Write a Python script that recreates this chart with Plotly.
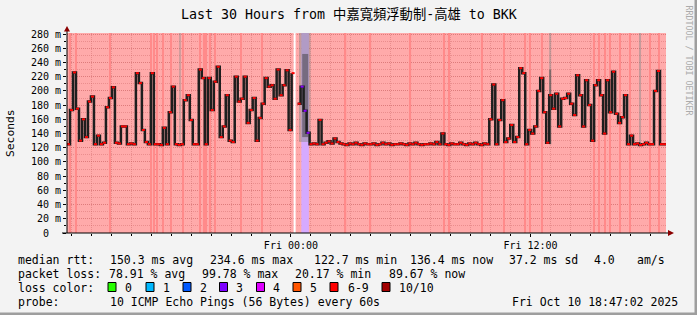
import pandas as pd
import plotly.graph_objects as go

# ---------------- data ----------------
START = pd.Timestamp("2025-10-09 12:47:02")
END = pd.Timestamp("2025-10-10 18:47:02")
STEP_MIN = 9  # minutes per sample

median_ms = [
    125, 173, 226, 175, 130, 160, 135, 185, 192, 125,
    137, 125, 127, 177, 190, 205, 127, 126, 150, 150,
    125, 126, 125, 225, 211, 145, 128, 125, 225, 125,
    125, 124, 148, 125, 170, 206, 125, 124, 125, 187,
    194, 159, 125, 125, 230, 218, 125, 218, 173, 213,
    234, 135, 150, 194, 130, 128, 220, 185, 189, 220,
    155, 173, 190, 130, 162, 182, 218, 206, 208, 189,
    230, 194, 208, 229, 145, 225, None, 182, 206, 172,
    141, 125, 126, 125, 159, 125, 127, 129, 126, 133,
    128, 126, 125, 124, 126, 125, 127, 125, 124, 126,
    125, 125, 126, 124, 125, 127, 125, 126, 124, 125,
    125, 126, 125, 124, 126, 125, 127, 125, 124, 125,
    125, 126, 125, 128, 125, 140, 125, 124, 126, 125,
    125, 127, 125, 124, 126, 125, 127, 125, 124, 126,
    125, 160, 209, 125, 159, 187, 128, 133, 152, 128,
    135, 232, 225, 125, 145, 140, 150, 200, 218, 170,
    127, 194, 175, 196, 150, 189, 190, 196, 182, 166,
    222, 194, 150, 215, 180, 130, 208, 215, 194, 140,
    215, 170, 227, 168, 155, 163, 194, 125, 137, 125,
    126, 124, 125, 127, 125, 125, 200, 228, 125, 125,
]
purple_steps = [78, 79, 80]  # samples with 3 lost pings

# hours after START with heavier loss background
loss_stripe_h = [0.15, 0.45, 2.15, 4.2, 4.35, 4.5, 4.8, 5.2, 5.8, 6.65, 6.85,
                 6.95, 7.15, 7.4, 8.7, 9.75, 13.95, 15.2, 17.2, 18.9, 19.15,
                 20.8, 21.9, 22.95, 23.2, 23.8, 26.4, 26.65, 26.95, 27.2,
                 27.7, 28.2, 29.2, 29.65]
nodata_h = [11.35, 11.45]
loss3_h = [11.735, 12.115]

# smoke bands (hours start/end, low/high ms)
smoke_start_h = [5.62, 11.62, 24.15, 28.65]
smoke_end_h = [5.70, 12.20, 24.25, 28.75]
smoke_low = [128, 128, 125, 122]
smoke_high = [282, 282, 282, 282]
dark_start_h = [11.78, 24.15]
dark_end_h = [12.08, 24.25]
dark_low = [135, 125]
dark_high = [252, 230]

y_ticks = [0, 20, 40, 60, 80, 100, 120, 140, 160, 180, 200, 220, 240, 260, 280]
x_tick_times = ["2025-10-10 00:00", "2025-10-10 12:00"]
x_tick_labels = ["Fri 00:00", "Fri 12:00"]

loss_names = ["0", "1", "2", "3", "4", "5", "6-9", "10/10"]
loss_cols = ["#26ff00", "#00b8ff", "#0059ff", "#7e00ff", "#dd00ff", "#ff5500", "#ff0000", "#a10000"]

# ---------------- layout constants ----------------
W, H = 697, 315
L, R, T, B = 67, 31, 33, 82
PW, PH = W - L - R, H - T - B
YMAX = 281.5
MONO = "DejaVu Sans Mono"
FS = 11.5


def ppx(x):
    return (x - L) / PW


def ppy(y):
    return (H - B - y) / PH


def hrs(h):
    return START + pd.Timedelta(hours=h)


n = len(median_ms)
times = [START + pd.Timedelta(minutes=STEP_MIN * i) for i in range(n + 1)]

fig = go.Figure()

HMS = 3600 * 1000
# loss background stripes
fig.add_trace(go.Bar(x=[hrs(h) for h in loss_stripe_h], y=[YMAX] * len(loss_stripe_h), base=0,
                     width=[0.065 * HMS] * len(loss_stripe_h), marker=dict(color="#ff8a8a", line=dict(width=0)),
                     hoverinfo="skip", showlegend=False))
fig.add_trace(go.Bar(x=[hrs((nodata_h[0] + nodata_h[1]) / 2)], y=[YMAX], base=0,
                     width=[(nodata_h[1] - nodata_h[0]) * HMS], marker=dict(color="#ffffff", line=dict(width=0)),
                     hoverinfo="skip", showlegend=False))
fig.add_trace(go.Bar(x=[hrs((loss3_h[0] + loss3_h[1]) / 2)], y=[YMAX], base=0,
                     width=[(loss3_h[1] - loss3_h[0]) * HMS], marker=dict(color="#d6aaff", line=dict(width=0)),
                     hoverinfo="skip", showlegend=False))

# smoke
fig.add_trace(go.Bar(x=[hrs((a + b) / 2) for a, b in zip(smoke_start_h, smoke_end_h)],
                     y=[h - l for l, h in zip(smoke_low, smoke_high)], base=smoke_low,
                     width=[(b - a) * HMS for a, b in zip(smoke_start_h, smoke_end_h)],
                     marker=dict(color="rgba(140,140,140,0.5)", line=dict(width=0)),
                     hoverinfo="skip", showlegend=False))
fig.add_trace(go.Bar(x=[hrs((a + b) / 2) for a, b in zip(dark_start_h, dark_end_h)],
                     y=[h - l for l, h in zip(dark_low, dark_high)], base=dark_low,
                     width=[(b - a) * HMS for a, b in zip(dark_start_h, dark_end_h)],
                     marker=dict(color="rgba(60,60,60,0.5)", line=dict(width=0)),
                     hoverinfo="skip", showlegend=False))

# smoke/median step line
fig.add_trace(go.Scatter(x=times, y=median_ms + [median_ms[-1]], mode="lines",
                         line=dict(color="#1e1e1e", width=2.5, shape="hv"),
                         connectgaps=False, hoverinfo="skip", showlegend=False))

# median ticks coloured by loss
rx, ry, px_, py_ = [], [], [], []
for i, v in enumerate(median_ms):
    if v is None:
        continue
    if i in purple_steps:
        px_ += [times[i], times[i + 1], None]
        py_ += [v, v, None]
    else:
        rx += [times[i], times[i + 1], None]
        ry += [v, v, None]
fig.add_trace(go.Scatter(x=rx, y=ry, mode="lines", line=dict(color="#ff0000", width=2),
                         hoverinfo="skip", showlegend=False))
fig.add_trace(go.Scatter(x=px_, y=py_, mode="lines", line=dict(color="#8800ff", width=2),
                         hoverinfo="skip", showlegend=False))

GRID = "rgba(200,95,95,0.38)"
fig.update_layout(
    width=W, height=H, margin=dict(l=L, r=R, t=T, b=B, pad=0),
    paper_bgcolor="#f3f3f3", plot_bgcolor="#ffaaaa",
    barmode="overlay", showlegend=False,
    font=dict(family=MONO, size=10, color="#000"),
    xaxis=dict(type="date", range=[START, END], tickvals=x_tick_times, ticktext=x_tick_labels,
               showgrid=True, gridcolor=GRID, griddash="1px,1px", gridwidth=1,
               ticks="outside", ticklen=3, tickcolor="#000", showline=False, zeroline=False,
               tickfont=dict(family=MONO, size=10),
               minor=dict(tickmode="linear", tick0="2025-10-09 13:00", dtick=HMS, showgrid=True,
                          gridcolor=GRID, griddash="1px,1px", ticks="outside", ticklen=2,
                          tickcolor="#000")),
    yaxis=dict(range=[0, YMAX], tickvals=y_ticks,
               ticktext=[("%d m" % v) if v else "0\u00a0\u00a0" for v in y_ticks],
               showgrid=True, gridcolor=GRID, griddash="1px,1px", gridwidth=1,
               ticks="outside", ticklen=3, tickcolor="#000", showline=False, zeroline=False,
               tickfont=dict(family=MONO, size=10),
               minor=dict(tickmode="linear", tick0=0, dtick=10, showgrid=True, gridcolor=GRID,
                          griddash="1px,1px", ticks="outside", ticklen=2, tickcolor="#000")),
)

shapes = []
# axis lines
shapes.append(dict(type="line", xref="paper", yref="paper", x0=0, x1=0, y0=ppy(233), y1=ppy(29),
                   line=dict(color="#000", width=1)))
shapes.append(dict(type="line", xref="paper", yref="paper", x0=ppx(62), x1=ppx(669), y0=0, y1=0,
                   line=dict(color="#000", width=1)))
# arrows
shapes.append(dict(type="path", xref="paper", yref="paper",
                   path="M %f %f L %f %f L %f %f Z" % (ppx(64), ppy(31.5), ppx(70), ppy(31.5), ppx(67), ppy(26)),
                   fillcolor="#8b0000", line=dict(width=0)))
shapes.append(dict(type="path", xref="paper", yref="paper",
                   path="M %f %f L %f %f L %f %f Z" % (ppx(668), ppy(230), ppx(668), ppy(236), ppx(674), ppy(233)),
                   fillcolor="#8b0000", line=dict(width=0)))
# frame shade
shapes.append(dict(type="rect", xref="paper", yref="paper", x0=ppx(694.5), x1=ppx(697), y0=ppy(0), y1=ppy(315),
                   fillcolor="#9e9e9e", line=dict(width=0)))
shapes.append(dict(type="rect", xref="paper", yref="paper", x0=ppx(0), x1=ppx(697), y0=ppy(312.5), y1=ppy(315),
                   fillcolor="#9e9e9e", line=dict(width=0)))
# loss colour boxes
box_x = [108, 146, 183, 219.5, 256.5, 293, 330, 382]
label_x = [123, 160.5, 197.5, 234, 271, 308, 345.5, 396.5]
for bx, c in zip(box_x, loss_cols):
    shapes.append(dict(type="rect", xref="paper", yref="paper", x0=ppx(bx), x1=ppx(bx + 8),
                       y0=ppy(291.5), y1=ppy(282.5), fillcolor=c, line=dict(color="#000", width=1)))
fig.update_layout(shapes=shapes)

ann = []


def txt(x, y, s, size=FS, anchor="left", color="#000", angle=0, fam=MONO):
    ann.append(dict(xref="paper", yref="paper", x=ppx(x), y=ppy(y), text=s, showarrow=False,
                    xanchor=anchor, yanchor="middle", textangle=angle,
                    font=dict(family=fam, size=size, color=color)))


txt(349, 14.5, "Last 30 Hours from 中嘉寬頻浮動制-高雄 to BKK", size=13.3, anchor="center",
    fam=MONO + ", Noto Sans CJK TC")
txt(10, 133, "Seconds", size=11.3, anchor="center", angle=-90)
txt(688.5, 60, "RRDTOOL / TOBI OETIKER", size=8.3, anchor="center", angle=90, color="#ababab")

row1 = [(16, "median rtt:"), (107.7, "150.3 ms avg"), (207.7, "234.6 ms max"), (312.3, "122.7 ms min"),
        (407.7, "136.4 ms now"), (506.7, "37.2 ms sd"), (592.3, "4.0"), (635, "am/s")]
row2 = [(16, "packet loss:"), (107.3, "78.91 % avg"), (200, "99.78 % max"), (293.3, "20.17 % min"),
        (386.7, "89.67 % now")]
for x, s in row1:
    txt(x, 259.5, s)
for x, s in row2:
    txt(x, 273.5, s)
txt(16, 287.5, "loss color:")
for x, s in zip(label_x, loss_names):
    txt(x, 287.5, s)
txt(16, 301.5, "probe:")
txt(107.7, 301.5, "10 ICMP Echo Pings (56 Bytes) every 60s")
txt(680.5, 301.5, "Fri Oct 10 18:47:02 2025", anchor="right")
fig.update_layout(annotations=ann)

fig.write_html("out.html", config={"displayModeBar": False})
